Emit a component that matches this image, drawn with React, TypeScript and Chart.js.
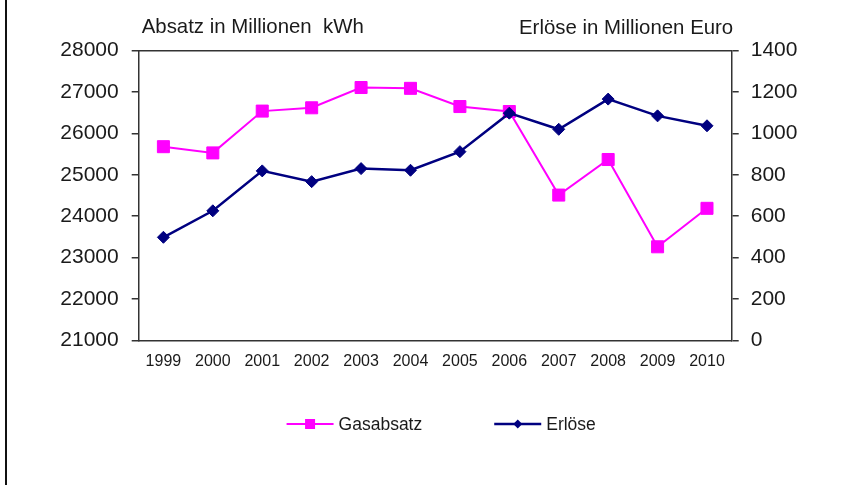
import React, { useEffect, useRef } from 'react';
import { Chart, registerables } from 'chart.js';

Chart.register(...registerables);

const years = ['1999', '2000', '2001', '2002', '2003', '2004', '2005', '2006', '2007', '2008', '2009', '2010'];
const gasabsatz = [25680, 25530, 26540, 26620, 27110, 27090, 26650, 26530, 24510, 25370, 23260, 24190];
const erloese = [498, 626, 819, 767, 830, 822, 912, 1098, 1020, 1166, 1085, 1037];
const leftTitle = 'Absatz in Millionen  kWh';
const rightTitle = 'Erlöse in Millionen Euro';
const seriesNames = ['Gasabsatz', 'Erlöse'];
const leftRange = { min: 21000, max: 28000, step: 1000 };
const rightRange = { min: 0, max: 1400, step: 200 };

const FONT = "'Liberation Sans', Arial, sans-serif";
const TEXT = '#1a1a1a';
const AXIS = '#333333';
const MAGENTA = '#ff00ff';
const NAVY = '#000080';

const decorPlugin = {
  id: 'decor',
  beforeDraw(chart: any) {
    const ctx = chart.ctx;
    ctx.save();
    ctx.fillStyle = '#ffffff';
    ctx.fillRect(0, 0, chart.width, chart.height);
    ctx.fillStyle = '#111111';
    ctx.fillRect(5, 0, 2, chart.height);
    ctx.restore();
  },
  beforeDatasetsDraw(chart: any) {
    const { ctx, chartArea } = chart;
    ctx.save();
    ctx.strokeStyle = AXIS;
    ctx.lineWidth = 1.5;
    ctx.beginPath();
    ctx.moveTo(chartArea.left, chartArea.top);
    ctx.lineTo(chartArea.right, chartArea.top);
    ctx.stroke();
    ctx.restore();
  },
  afterDraw(chart: any) {
    const { ctx, chartArea } = chart;
    ctx.save();
    ctx.fillStyle = TEXT;
    ctx.font = `20.4px ${FONT}`;
    ctx.textBaseline = 'alphabetic';
    ctx.textAlign = 'left';
    ctx.fillText(leftTitle, chartArea.left + 3, 32.5);
    ctx.textAlign = 'right';
    ctx.fillText(rightTitle, chartArea.right + 1.5, 34);

    // legend
    ctx.font = `17.5px ${FONT}`;
    ctx.textAlign = 'left';
    ctx.textBaseline = 'middle';
    const ly = 424;
    const lineLen = 47;
    const gapText = 5;
    const gapItems = 72;
    const widths = chart.data.datasets.map((d: any) => lineLen + gapText + ctx.measureText(d.label).width);
    const total = widths.reduce((a: number, b: number) => a + b, 0) + gapItems * (widths.length - 1);
    let x = (chartArea.left + chartArea.right) / 2 + 6 - total / 2;
    chart.data.datasets.forEach((d: any, i: number) => {
      ctx.strokeStyle = d.borderColor;
      ctx.lineWidth = d.borderWidth;
      ctx.beginPath();
      ctx.moveTo(x, ly);
      ctx.lineTo(x + lineLen, ly);
      ctx.stroke();
      const cx = x + lineLen / 2;
      ctx.fillStyle = d.pointBackgroundColor;
      if (d.pointStyle === 'rect') {
        ctx.fillRect(cx - 5, ly - 5, 10, 10);
      } else {
        ctx.beginPath();
        ctx.moveTo(cx, ly - 4.5);
        ctx.lineTo(cx + 4.5, ly);
        ctx.lineTo(cx, ly + 4.5);
        ctx.lineTo(cx - 4.5, ly);
        ctx.closePath();
        ctx.fill();
      }
      ctx.fillStyle = TEXT;
      ctx.fillText(d.label, x + lineLen + gapText, ly + 1);
      x += widths[i] + gapItems;
    });
    ctx.restore();
  },
};

export default function App() {
  const ref = useRef<HTMLCanvasElement>(null);

  useEffect(() => {
    if (!ref.current) return;
    const chart = new Chart(ref.current, {
      type: 'line',
      data: {
        labels: years,
        datasets: [
          {
            label: seriesNames[0],
            data: gasabsatz,
            yAxisID: 'y',
            borderColor: MAGENTA,
            backgroundColor: MAGENTA,
            pointBackgroundColor: MAGENTA,
            pointBorderColor: MAGENTA,
            borderWidth: 2,
            pointStyle: 'rect',
            pointRadius: 8.5,
            pointBorderWidth: 1,
            tension: 0,
            order: 1,
          },
          {
            label: seriesNames[1],
            data: erloese,
            yAxisID: 'y1',
            borderColor: NAVY,
            backgroundColor: NAVY,
            pointBackgroundColor: NAVY,
            pointBorderColor: NAVY,
            borderWidth: 2.5,
            pointStyle: 'rectRot',
            pointRadius: 6,
            pointBorderWidth: 1,
            tension: 0,
            order: 0,
          },
        ],
      },
      options: {
        responsive: false,
        animation: false,
        devicePixelRatio: 1,
        layout: { padding: { top: 50.7, left: 0, right: 0, bottom: 0 } },
        plugins: {
          legend: { display: false },
          tooltip: { enabled: false },
          title: { display: false },
        },
        scales: {
          x: {
            type: 'category',
            offset: true,
            grid: { display: false, drawTicks: false },
            border: { display: true, color: AXIS, width: 1.5 },
            ticks: {
              color: TEXT,
              font: { family: FONT, size: 16 },
              padding: 12,
              maxRotation: 0,
              autoSkip: false,
            },
            afterFit(scale: any) {
              scale.height = 144.7;
            },
          },
          y: {
            type: 'linear',
            position: 'left',
            min: leftRange.min,
            max: leftRange.max,
            grid: { drawOnChartArea: false, drawTicks: true, tickLength: 7, color: AXIS, lineWidth: 1.5 },
            border: { display: true, color: AXIS, width: 1.5 },
            ticks: {
              stepSize: leftRange.step,
              color: TEXT,
              font: { family: FONT, size: 21 },
              padding: 13,
              callback: (v: any) => String(v),
            },
            afterFit(scale: any) {
              scale.width = 138.7;
            },
          },
          y1: {
            type: 'linear',
            position: 'right',
            min: rightRange.min,
            max: rightRange.max,
            grid: { drawOnChartArea: false, drawTicks: true, tickLength: 7, color: AXIS, lineWidth: 1.5 },
            border: { display: true, color: AXIS, width: 1.5 },
            ticks: {
              stepSize: rightRange.step,
              color: TEXT,
              font: { family: FONT, size: 21 },
              padding: 12,
              callback: (v: any) => String(v),
            },
            afterFit(scale: any) {
              scale.width = 118.3;
            },
          },
        },
      },
      plugins: [decorPlugin],
    });
    return () => chart.destroy();
  }, []);

  return (
    <div style={{ position: 'absolute', left: 0, top: 0, width: 850, height: 485, background: '#fff' }}>
      <canvas ref={ref} width={850} height={485} style={{ display: 'block', width: 850, height: 485 }} />
    </div>
  );
}
